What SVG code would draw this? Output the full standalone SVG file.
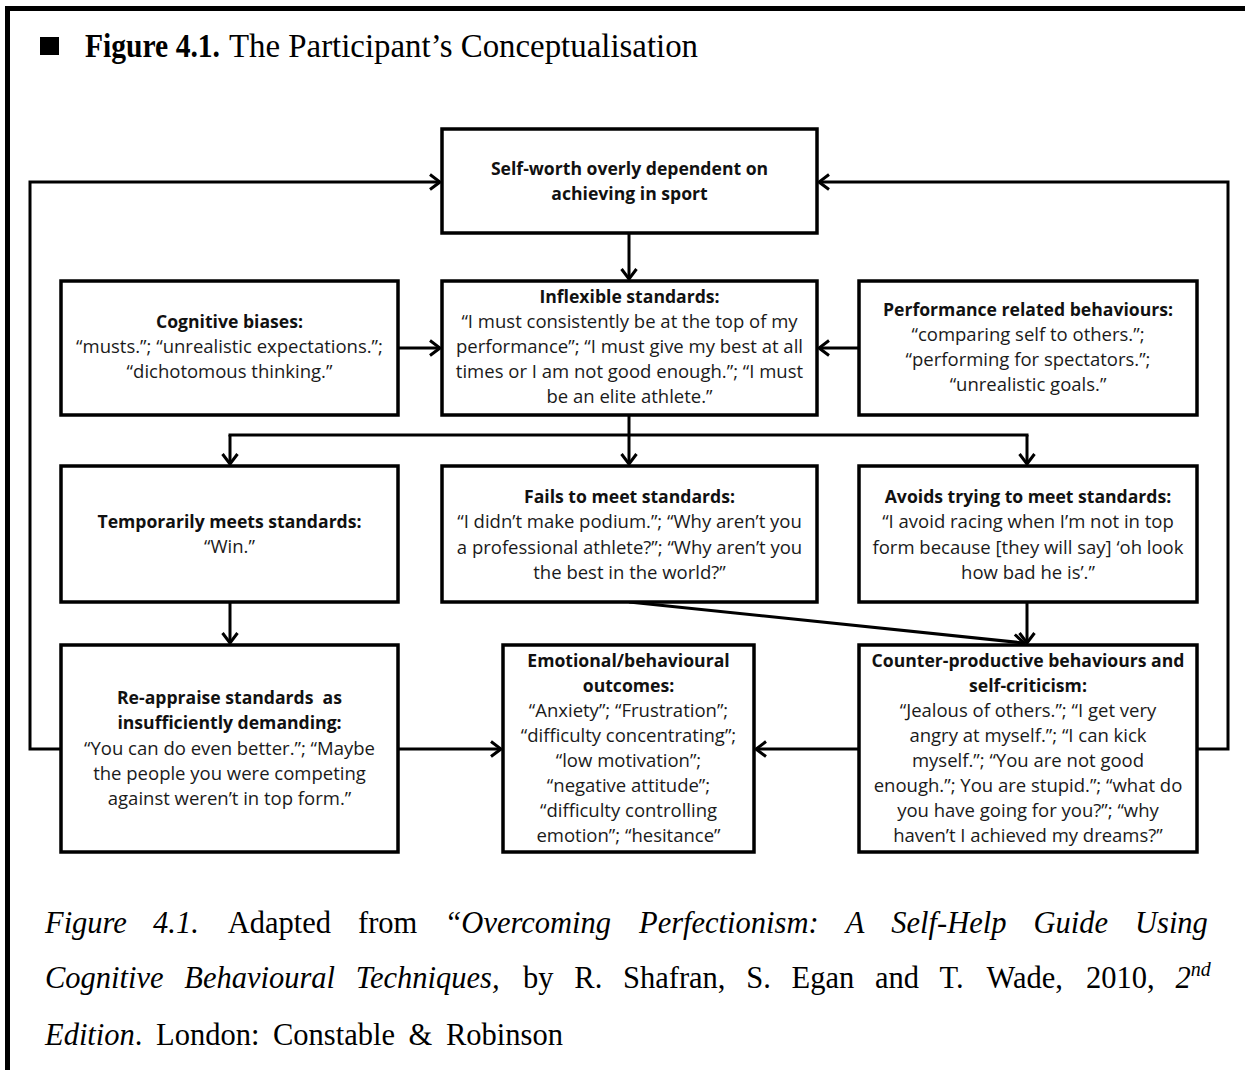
<svg xmlns="http://www.w3.org/2000/svg" width="1245" height="1070" viewBox="0 0 1245 1070">
  <defs>
    <marker id="arrow" viewBox="-12 -10 14 20" refX="0" refY="0" markerWidth="14" markerHeight="20" markerUnits="userSpaceOnUse" orient="auto">
      <path d="M-10,-7.5 L0,0 L-10,7.5" fill="none" stroke="#000" stroke-width="3"/>
    </marker>
    <style>
      .box { fill: #fff; stroke: #000; stroke-width: 3.5; }
      .link { fill: none; stroke: #000; stroke-width: 3; marker-end: url(#arrow); }
      .head { font-family: "Open Sans", "Liberation Sans", sans-serif; font-weight: bold; font-size: 17.6px; fill: #111; text-anchor: middle; }
      .body { font-family: "Open Sans", "Liberation Sans", sans-serif; font-size: 18.5px; fill: #1a1a1a; text-anchor: middle; }
      .serif { font-family: "Liberation Serif", "Times New Roman", serif; fill: #000; }
      .it { font-style: italic; }
    </style>
  </defs>

  <rect width="1245" height="1070" fill="#fff"/>

  <!-- page frame -->
  <path d="M7.5,1070 V8.5 H1245" fill="none" stroke="#000" stroke-width="5"/>

  <!-- heading -->
  <rect x="40" y="37" width="19" height="18" fill="#000"/>
  <text class="serif" x="85" y="57" font-size="33" font-weight="bold" textLength="135" lengthAdjust="spacingAndGlyphs">Figure 4.1.</text>
  <text class="serif" x="229" y="57" font-size="33" textLength="469" lengthAdjust="spacingAndGlyphs">The Participant’s Conceptualisation</text>

  <!-- connectors -->
  <g id="connectors">
    <polyline class="link" points="61,749 30,749 30,182 440,182"/>
    <polyline class="link" points="1197,749 1228,749 1228,182 819,182"/>
    <line class="link" x1="629" y1="233" x2="629" y2="279"/>
    <line class="link" x1="398" y1="348" x2="440" y2="348"/>
    <line class="link" x1="859" y1="348" x2="819" y2="348"/>
    <line x1="629" y1="415" x2="629" y2="435" stroke="#000" stroke-width="3"/>
    <line x1="228.5" y1="435" x2="1028.5" y2="435" stroke="#000" stroke-width="3"/>
    <line class="link" x1="230" y1="435" x2="230" y2="464"/>
    <line class="link" x1="629" y1="435" x2="629" y2="464"/>
    <line class="link" x1="1027" y1="435" x2="1027" y2="464"/>
    <line class="link" x1="230" y1="602" x2="230" y2="643"/>
    <line class="link" x1="1027" y1="602" x2="1027" y2="643"/>
    <line class="link" x1="629" y1="602" x2="1024" y2="643"/>
    <line class="link" x1="398" y1="749" x2="501" y2="749"/>
    <line class="link" x1="859" y1="749" x2="756" y2="749"/>
  </g>

  <g id="self-worth">
    <rect class="box" x="442" y="129" width="375" height="104"/>
    <text class="head" x="629.5" y="175">Self-worth overly dependent on</text>
    <text class="head" x="629.5" y="200">achieving in sport</text>
  </g>

  <g id="cognitive-biases">
    <rect class="box" x="61" y="281" width="337" height="134"/>
    <text class="head" x="229.5" y="328">Cognitive biases:</text>
    <text class="body" x="229.5" y="353">“musts.”; “unrealistic expectations.”;</text>
    <text class="body" x="229.5" y="378">“dichotomous thinking.”</text>
  </g>

  <g id="inflexible-standards">
    <rect class="box" x="442" y="281" width="375" height="134"/>
    <text class="head" x="629.5" y="303">Inflexible standards:</text>
    <text class="body" x="629.5" y="328">“I must consistently be at the top of my</text>
    <text class="body" x="629.5" y="353">performance”; “I must give my best at all</text>
    <text class="body" x="629.5" y="378">times or I am not good enough.”; “I must</text>
    <text class="body" x="629.5" y="403">be an elite athlete.”</text>
  </g>

  <g id="performance-behaviours">
    <rect class="box" x="859" y="281" width="338" height="134"/>
    <text class="head" x="1028" y="316">Performance related behaviours:</text>
    <text class="body" x="1028" y="341">“comparing self to others.”;</text>
    <text class="body" x="1028" y="366">“performing for spectators.”;</text>
    <text class="body" x="1028" y="391">“unrealistic goals.”</text>
  </g>

  <g id="temporarily-meets">
    <rect class="box" x="61" y="466" width="337" height="136"/>
    <text class="head" x="229.5" y="528">Temporarily meets standards:</text>
    <text class="body" x="229.5" y="553">“Win.”</text>
  </g>

  <g id="fails-to-meet">
    <rect class="box" x="442" y="466" width="375" height="136"/>
    <text class="head" x="629.5" y="503">Fails to meet standards:</text>
    <text class="body" x="629.5" y="528">“I didn’t make podium.”; “Why aren’t you</text>
    <text class="body" x="629.5" y="554">a professional athlete?”; “Why aren’t you</text>
    <text class="body" x="629.5" y="579">the best in the world?”</text>
  </g>

  <g id="avoids-trying">
    <rect class="box" x="859" y="466" width="338" height="136"/>
    <text class="head" x="1028" y="503">Avoids trying to meet standards:</text>
    <text class="body" x="1028" y="528">“I avoid racing when I’m not in top</text>
    <text class="body" x="1028" y="554">form because [they will say] ‘oh look</text>
    <text class="body" x="1028" y="579">how bad he is’.”</text>
  </g>

  <g id="re-appraise">
    <rect class="box" x="61" y="645" width="337" height="207"/>
    <text class="head" x="229.5" y="704" xml:space="preserve">Re-appraise standards  as</text>
    <text class="head" x="229.5" y="729">insufficiently demanding:</text>
    <text class="body" x="229.5" y="755">“You can do even better.”; “Maybe</text>
    <text class="body" x="229.5" y="780">the people you were competing</text>
    <text class="body" x="229.5" y="805">against weren’t in top form.”</text>
  </g>

  <g id="emotional-outcomes">
    <rect class="box" x="503" y="645" width="251" height="207"/>
    <text class="head" x="628.5" y="667">Emotional/behavioural</text>
    <text class="head" x="628.5" y="692">outcomes:</text>
    <text class="body" x="628.5" y="717">“Anxiety”; “Frustration”;</text>
    <text class="body" x="628.5" y="742">“difficulty concentrating”;</text>
    <text class="body" x="628.5" y="767">“low motivation”;</text>
    <text class="body" x="628.5" y="792">“negative attitude”;</text>
    <text class="body" x="628.5" y="817">“difficulty controlling</text>
    <text class="body" x="628.5" y="842">emotion”; “hesitance”</text>
  </g>

  <g id="counter-productive">
    <rect class="box" x="859" y="645" width="338" height="207"/>
    <text class="head" x="1028" y="667">Counter-productive behaviours and</text>
    <text class="head" x="1028" y="692">self-criticism:</text>
    <text class="body" x="1028" y="717">“Jealous of others.”; “I get very</text>
    <text class="body" x="1028" y="742">angry at myself.”; “I can kick</text>
    <text class="body" x="1028" y="767">myself.”; “You are not good</text>
    <text class="body" x="1028" y="792">enough.”; You are stupid.”; “what do</text>
    <text class="body" x="1028" y="817">you have going for you?”; “why</text>
    <text class="body" x="1028" y="842">haven’t I achieved my dreams?”</text>
  </g>

  <!-- source note, justified word by word -->
  <g class="serif" font-size="30.5">
    <text y="933">
      <tspan class="it" x="45">Figure</tspan>
      <tspan class="it" x="153">4.1.</tspan>
      <tspan x="227.8">Adapted</tspan>
      <tspan x="358">from</tspan>
      <tspan class="it" x="444.4">“Overcoming</tspan>
      <tspan class="it" x="639">Perfectionism:</tspan>
      <tspan class="it" x="845.7">A</tspan>
      <tspan class="it" x="891.3">Self-Help</tspan>
      <tspan class="it" x="1033.5">Guide</tspan>
      <tspan class="it" x="1135">Using</tspan>
    </text>
    <text y="988">
      <tspan class="it" x="45">Cognitive</tspan>
      <tspan class="it" x="184.3">Behavioural</tspan>
      <tspan class="it" x="355.8">Techniques,</tspan>
      <tspan x="523.1">by</tspan>
      <tspan x="574.3">R.</tspan>
      <tspan x="623">Shafran,</tspan>
      <tspan x="746.2">S.</tspan>
      <tspan x="791.5">Egan</tspan>
      <tspan x="874.9">and</tspan>
      <tspan x="939.6">T.</tspan>
      <tspan x="986.6">Wade,</tspan>
      <tspan x="1086.1">2010,</tspan>
      <tspan class="it" x="1175.4">2</tspan><tspan class="it" font-size="20" dy="-12">nd</tspan>
    </text>
    <text y="1045">
      <tspan class="it" x="45">Edition</tspan><tspan>.</tspan>
      <tspan x="156">London:</tspan>
      <tspan x="273">Constable</tspan>
      <tspan x="408.6">&amp;</tspan>
      <tspan x="446">Robinson</tspan>
    </text>
  </g>
</svg>
